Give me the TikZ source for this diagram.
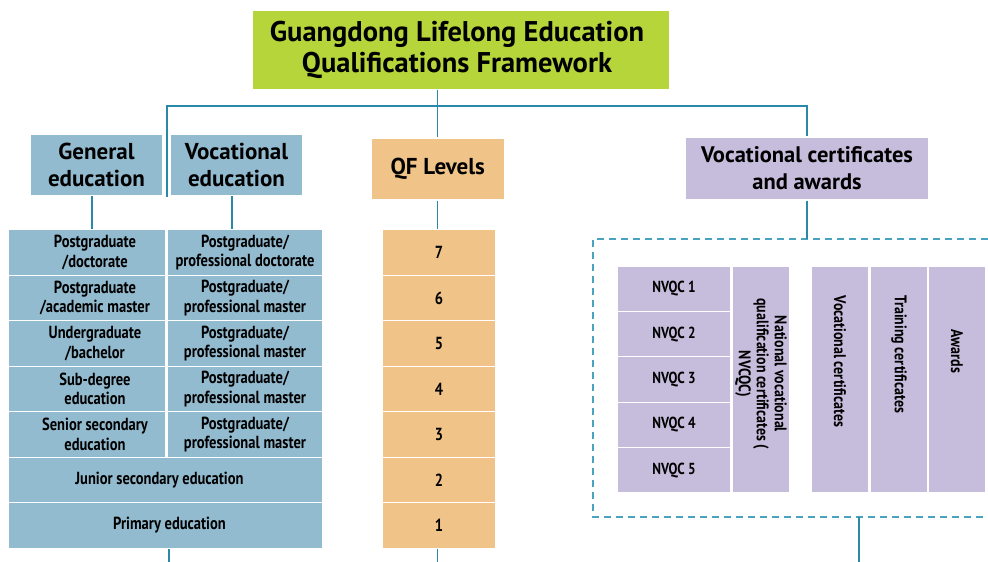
\documentclass[tikz,border=0pt]{standalone}
\usepackage{fontspec}
\setmainfont{PT Sans}
\newfontfamily\condfont[FakeStretch=0.83]{PT Sans}
\definecolor{tgreen}{HTML}{B6D53B}
\definecolor{tblue}{HTML}{93BBCF}
\definecolor{torange}{HTML}{F0C389}
\definecolor{tpurple}{HTML}{C6BDDC}
\definecolor{tline}{HTML}{2A89A8}
\definecolor{tdash}{HTML}{4AA2BF}
\begin{document}
\begin{tikzpicture}[x=1pt,y=-1pt,
  box/.style={draw=white,line width=1.2pt,inner sep=0pt,align=center,font=\bfseries},
  hdr/.style={box,font=\fontsize{23}{26.7}\selectfont\bfseries},
  cfont/.style={font=\condfont\fontsize{17.5}{19.3}\selectfont\bfseries},
  cell/.style={box,fill=tblue,minimum height=45.5pt,cfont},
  ctext/.style={inner sep=0pt,align=center,cfont,xshift=8pt},
  qcell/.style={box,fill=torange,minimum width=114pt,minimum height=45.5pt,font=\condfont\fontsize{17.5}{19}\selectfont\bfseries},
  ncell/.style={box,fill=tpurple,minimum width=114pt,minimum height=45.4pt,font=\condfont\fontsize{16}{18}\selectfont\bfseries},
  vcell/.style={box,fill=tpurple,minimum width=58pt,minimum height=227pt},
  vtext/.style={inner sep=0pt,align=center,rotate=-90,font=\condfont\fontsize{16.8}{18}\selectfont\bfseries},
  conn/.style={draw=tline,line width=1.3pt},
  dashline/.style={draw=tdash,line width=1.3pt,dash pattern=on 7pt off 5pt}]
\useasboundingbox (0,0) rectangle (988,562);

% title
\node[box,draw=none,fill=tgreen,minimum width=416pt,minimum height=78pt,
  label={[inner sep=0pt,align=center,xshift=-4pt,font=\fontsize{28.5}{31}\selectfont\bfseries]center:{Guangdong Lifelong Education\\Qualifications Framework}}]
  (title) at (461,50) {};

% headers
\node[hdr,fill=tblue,minimum width=133pt,minimum height=62pt] (gen) at (96.5,165) {General\\education};
\node[hdr,fill=tblue,minimum width=133pt,minimum height=62pt] (voc) at (236.5,165) {Vocational\\education};
\node[hdr,fill=torange,minimum width=133pt,minimum height=62pt] (qf) at (437.7,169) {QF Levels};
\node[hdr,fill=tpurple,minimum width=244pt,minimum height=63pt,font=\fontsize{22.5}{26.7}\selectfont\bfseries] (vca) at (807,168.5) {Vocational certificates\\and awards};

% left table
\node[cell,minimum width=158pt,label={[ctext]center:{Postgraduate\\/doctorate}}] (l1) at (87,252.5) {};
\node[cell,minimum width=156pt] (r1) at (245,252.5) {Postgraduate/\\professional doctorate};
\node[cell,minimum width=158pt,label={[ctext]center:{Postgraduate\\/academic master}}] (l2) at (87,298) {};
\node[cell,minimum width=156pt] (r2) at (245,298) {Postgraduate/\\professional master};
\node[cell,minimum width=158pt,label={[ctext]center:{Undergraduate\\/bachelor}}] (l3) at (87,343.5) {};
\node[cell,minimum width=156pt] (r3) at (245,343.5) {Postgraduate/\\professional master};
\node[cell,minimum width=158pt,label={[ctext]center:{Sub-degree\\education}}] (l4) at (87,389) {};
\node[cell,minimum width=156pt] (r4) at (245,389) {Postgraduate/\\professional master};
\node[cell,minimum width=158pt,label={[ctext]center:{Senior secondary\\education}}] (l5) at (87,434.5) {};
\node[cell,minimum width=156pt] (r5) at (245,434.5) {Postgraduate/\\professional master};
\node[cell,minimum width=315pt,label={[ctext,xshift=-14pt]center:{Junior secondary education}}] (jun) at (165.5,480) {};
\node[cell,minimum width=315pt,label={[ctext,xshift=-4pt]center:{Primary education}}] (pri) at (165.5,525.5) {};

% QF levels
\node[qcell] (q7) at (439,252.5) {7};
\node[qcell] (q6) at (439,298) {6};
\node[qcell] (q5) at (439,343.5) {5};
\node[qcell] (q4) at (439,389) {4};
\node[qcell] (q3) at (439,434.5) {3};
\node[qcell] (q2) at (439,480) {2};
\node[qcell] (q1) at (439,525.5) {1};

% vocational certificates group
\node[ncell] (n1) at (674,288.7) {NVQC 1};
\node[ncell] (n2) at (674,334.1) {NVQC 2};
\node[ncell] (n3) at (674,379.5) {NVQC 3};
\node[ncell] (n4) at (674,424.9) {NVQC 4};
\node[ncell] (n5) at (674,470.3) {NVQC 5};
\node[vcell] (nv) at (761,379.5) {};
\node[vtext] (nvt) at (761,374) {National vocational\\qualification certificates (\\NVCQC)};
\node[vcell] (vc) at (840,379.5) {};
\node[vtext] (vct) at (840,361.5) {Vocational certificates};
\node[vcell] (tc) at (899,379.5) {};
\node[vtext] (tct) at (899,354.5) {Training certificates};
\node[vcell] (aw) at (957,379.5) {};
\node[vtext] (awt) at (957,351.5) {Awards};

% dashed frame
\coordinate (dtr) at (988,239);
\coordinate (dtl) at (593,239);
\coordinate (dbl) at (593,517);
\coordinate (dbr) at (988,517);
\draw[dashline] (dtr) -- (dtl) -- (dbl) -- (dbr);

% connectors
\coordinate (hl) at (167,106);
\coordinate (hr) at (807,106);
\coordinate (gvb) at (167,197);
\draw[conn] (gvb) -- (hl) -- (hr) -- (vca.north);
\draw[conn] (qf.north |- title.south) -- (qf.north);
\draw[conn] (qf.south) -- (qf.south |- q7.north);
\draw[conn] (92,196) coordinate (gs) -- (gs |- l1.north);
\draw[conn] (232,196) coordinate (vs) -- (vs |- r1.north);
\draw[conn] (vca.south) -- (vca.south |- dtl);
\coordinate (tb) at (169,562);
\draw[conn] (pri.south -| tb) -- (tb);
\coordinate (qb) at (437.7,562);
\draw[conn] (q1.south -| qb) -- (qb);
\coordinate (db) at (859,562);
\draw[conn] (db |- dbl) -- (db);
\end{tikzpicture}
\end{document}
